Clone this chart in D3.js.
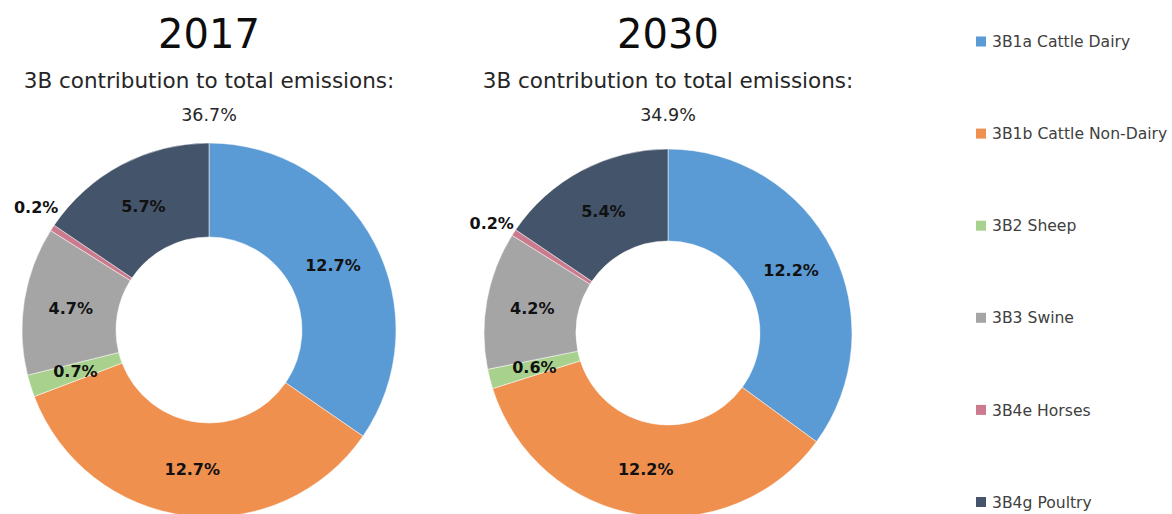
<!DOCTYPE html>
<html>
<head>
<meta charset="utf-8">
<script src="https://cdn.jsdelivr.net/npm/d3@7"></script>
<style>
  html, body { margin: 0; padding: 0; background: #fff; }
  svg { display: block; font-family: "DejaVu Sans", sans-serif; }
</style>
</head>
<body>
<svg id="chart" width="1172" height="514"></svg>
<script>
// Livestock (3B) emission shares by sub-category
const categories = ["3B1a Cattle Dairy", "3B1b Cattle Non-Dairy", "3B2 Sheep", "3B3 Swine", "3B4e Horses", "3B4g Poultry"];
const years = ["2017", "2030"];
const values2017 = [12.7, 12.7, 0.7, 4.7, 0.2, 5.7];
const values2030 = [12.2, 12.2, 0.6, 4.2, 0.2, 5.4];
const totals = [36.7, 34.9];

const colors = ["#5B9BD5", "#EF904F", "#A9D18E", "#A5A5A5", "#CC7A8E", "#44546A"];

const svg = d3.select("#chart");
const color = d3.scaleOrdinal().domain(categories).range(colors);
const fmt = d => d3.format(".1f")(d) + "%";

// layout for each donut
const panels = [
  { year: years[0], values: values2017, total: totals[0], cx: 209, cy: 330, R: 187, r: 93, smallDx: 6, smallDy: -20 },
  { year: years[1], values: values2030, total: totals[1], cx: 668, cy: 333, R: 184, r: 92, smallDx: 0, smallDy: -9 }
];

const pie = d3.pie().sort(null).value(d => d.value);

panels.forEach(p => {
  const g = svg.append("g");

  // headings
  g.append("text")
    .attr("x", p.cx).attr("y", 48)
    .attr("text-anchor", "middle")
    .attr("font-size", 40)
    .attr("fill", "#0d0d0d")
    .text(p.year);
  g.append("text")
    .attr("x", p.cx).attr("y", 88)
    .attr("text-anchor", "middle")
    .attr("font-size", 21.5)
    .attr("fill", "#262626")
    .text("3B contribution to total emissions:");
  g.append("text")
    .attr("x", p.cx).attr("y", 121)
    .attr("text-anchor", "middle")
    .attr("font-size", 17.5)
    .attr("fill", "#262626")
    .text(fmt(p.total));

  const data = categories.map((c, i) => ({ cat: c, value: p.values[i] }));
  const arcs = pie(data);
  const arc = d3.arc().innerRadius(p.r).outerRadius(p.R);

  const donut = g.append("g").attr("transform", `translate(${p.cx},${p.cy})`);
  donut.selectAll("path")
    .data(arcs)
    .join("path")
    .attr("d", arc)
    .attr("fill", d => color(d.data.cat))
    .attr("stroke", "#fff")
    .attr("stroke-width", 0.5);

  donut.selectAll("text")
    .data(arcs)
    .join("text")
    .attr("font-size", 16)
    .attr("font-weight", "bold")
    .attr("fill", "#111")
    .attr("dy", "0.35em")
    .each(function (d) {
      const t = d3.select(this);
      if (d.data.value < 0.5) {
        // thin slice: label sits outside the ring
        const mid = (d.startAngle + d.endAngle) / 2;
        const x = Math.sin(mid) * p.R + p.smallDx;
        const y = -Math.cos(mid) * p.R + p.smallDy;
        t.attr("x", x).attr("y", y).attr("text-anchor", "end");
      } else {
        const [x, y] = arc.centroid(d);
        t.attr("x", x).attr("y", y).attr("text-anchor", "middle");
      }
    })
    .text(d => fmt(d.data.value));
});

// legend
const legendY = d3.scalePoint().domain(categories).range([41.5, 502]);
const legend = svg.append("g");
const items = legend.selectAll("g")
  .data(categories)
  .join("g")
  .attr("transform", d => `translate(976,${legendY(d)})`);
items.append("rect")
  .attr("x", 0).attr("y", -5)
  .attr("width", 10).attr("height", 10)
  .attr("fill", d => color(d));
items.append("text")
  .attr("x", 16).attr("dy", "0.36em")
  .attr("font-size", 15.6)
  .attr("fill", "#404040")
  .text(d => d);
</script>
</body>
</html>
